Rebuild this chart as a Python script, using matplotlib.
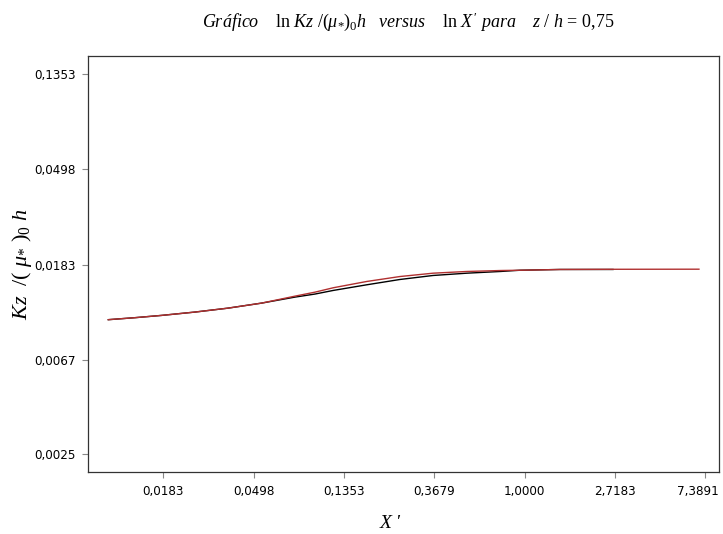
import numpy as np
import matplotlib
matplotlib.use("Agg")
import matplotlib.pyplot as plt
import matplotlib.transforms as mtransforms
from matplotlib.ticker import FixedLocator, FixedFormatter, NullLocator

plt.rcParams['mathtext.fontset'] = 'custom'
plt.rcParams['mathtext.rm'] = 'Liberation Serif'
plt.rcParams['mathtext.it'] = 'Liberation Serif:italic'
plt.rcParams['mathtext.bf'] = 'Liberation Serif:bold'

# Data (X' and Kz/(mu*)0 h)
x_black = [0.009942, 0.013354, 0.017953, 0.025966, 0.037403, 0.054313, 0.078551, 0.098081,
           0.120032, 0.173774, 0.251313, 0.362402, 0.526239, 0.764908, 0.949329, 1.478469, 2.659131]
y_black = [0.010265, 0.010483, 0.010738, 0.011120, 0.011586, 0.012216, 0.013011, 0.013434,
           0.013954, 0.014803, 0.015655, 0.016326, 0.016723, 0.017027, 0.017249, 0.017388, 0.017388]
x_red = [0.009942, 0.013354, 0.017953, 0.025966, 0.037403, 0.054313, 0.078551, 0.098081,
         0.120032, 0.173774, 0.251313, 0.362402, 0.526239, 0.764908, 0.949329, 1.478469, 2.659131, 6.889]
y_red = [0.010265, 0.010483, 0.010738, 0.011120, 0.011586, 0.012216, 0.013141, 0.013705,
         0.014351, 0.015329, 0.016148, 0.016723, 0.017027, 0.017198, 0.017249, 0.017388, 0.017423, 0.017440]

x_ticks = [0.0183, 0.0498, 0.1353, 0.3679, 1.0000, 2.7183, 7.3891]
x_labels = ["0,0183", "0,0498", "0,1353", "0,3679", "1,0000", "2,7183", "7,3891"]
y_ticks = [0.0025, 0.0067, 0.0183, 0.0498, 0.1353]
y_labels = ["0,0025", "0,0067", "0,0183", "0,0498", "0,1353"]

fig = plt.figure(figsize=(7.23, 5.34), dpi=100)
ax = fig.add_axes([88/723, 1-472/534, (719-88)/723, (472-56)/534])

ax.plot(x_black, y_black, color='black', lw=1.0)
ax.plot(x_red, y_red, color='#b03030', lw=1.0)

ax.set_xscale('log', base=np.e)
ax.set_yscale('log', base=np.e)
ax.set_xlim(np.exp(-4.836), np.exp(2.152))
ax.set_ylim(np.exp(-6.178), np.exp(-1.811))

ax.xaxis.set_major_locator(FixedLocator(x_ticks))
ax.xaxis.set_major_formatter(FixedFormatter(x_labels))
ax.xaxis.set_minor_locator(NullLocator())
ax.yaxis.set_major_locator(FixedLocator(y_ticks))
ax.yaxis.set_major_formatter(FixedFormatter(y_labels))
ax.yaxis.set_minor_locator(NullLocator())

ax.tick_params(axis='both', length=4, width=0.8, color='#888888', pad=5,
               labelsize=9.5)
for s in ax.spines.values():
    s.set_linewidth(0.9)
    s.set_color('#333333')

for tick in ax.xaxis.get_major_ticks() + ax.yaxis.get_major_ticks():
    tick.label1.set_family(['DejaVu Sans'])
    tick.label1.set_fontstretch('condensed')
last = ax.xaxis.get_major_ticks()[-1].label1
last.set_transform(last.get_transform() +
                   mtransforms.ScaledTranslation(-5/72, 0, fig.dpi_scale_trans))

title = (r"$\mathit{Gráfico}\quad\ \mathrm{ln}\ Kz\ /(\mu_{*})_{0}h\quad \mathit{versus}\quad\ "
         r"\mathrm{ln}\ X\,'\ \mathit{para}\quad\ z\ /\ h\, =\, 0{,}75$")
fig.text(408/723, 1-22/534, title, ha='center', va='center', fontsize=13)

fig.text(22/723, 1-264/534, r"$Kz\ \ /(\ \mu_{*}\ )_{0}\ h$",
         rotation=90, ha='center', va='center', fontsize=16)
fig.text(390/723, 1-523/534, "X '", ha='center', va='center', fontsize=14,
         family='Liberation Serif', style='italic')

fig.savefig('out.png', dpi=100)
